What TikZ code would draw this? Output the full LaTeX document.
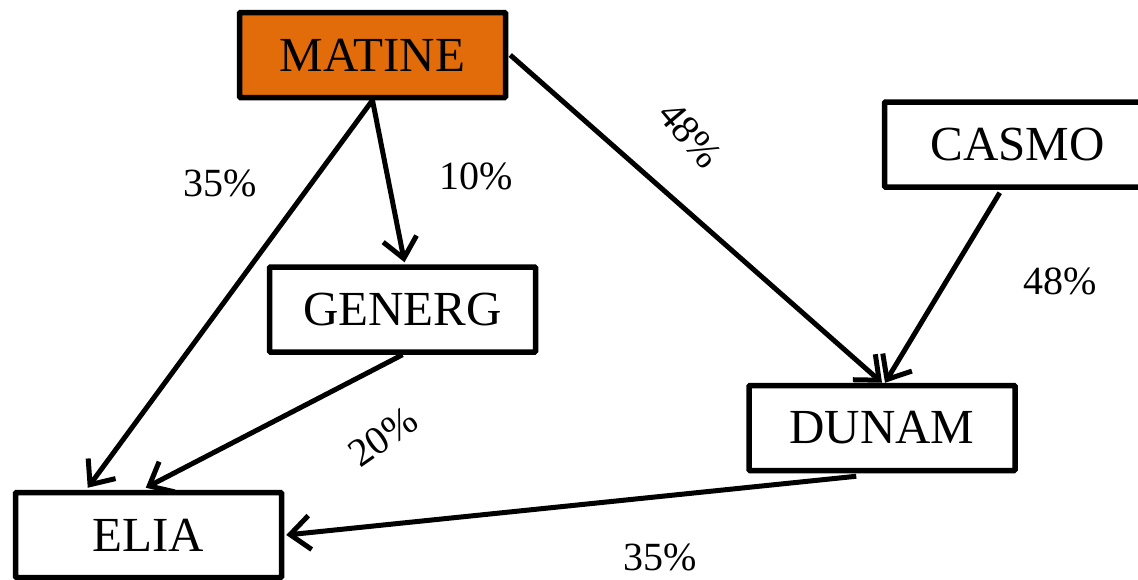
\documentclass[tikz,border=0pt]{standalone}
\usepackage{fontspec}
\setmainfont{Liberation Serif}
\usetikzlibrary{arrows.meta,calc}
\definecolor{matorange}{RGB}{227,108,10}
\begin{document}
\begin{tikzpicture}[x=1pt,y=-1pt,
  box/.style={draw=black,line width=5.5pt,minimum width=266pt,minimum height=85pt,inner sep=0pt,font=\fontsize{49}{54}\selectfont,rounded corners=1pt},
  link/.style={line width=5pt,-{Straight Barb[length=20pt,width=34pt,line width=5pt]}},
  pct/.style={font=\fontsize{40}{44}\selectfont,inner sep=0pt}]
\useasboundingbox (0,0) rectangle (1138,579);
\node[box,fill=matorange] (matine) at (372.5,55) {MATINE};
\node[box] (casmo) at (1017.5,144.5) {CASMO};
\node[box] (generg) at (402.5,309.5) {GENERG};
\node[box] (dunam) at (882,428) {DUNAM};
\node[box] (elia) at (148.5,535) {ELIA};
\draw[link] (matine.south) -- ($(elia.north west)+(75,-2)$);
\draw[link] (matine.south) -- ($(generg.north)+(2,-2)$);
\draw[link] ($(matine.east)+(2,0)$) -- (dunam.north);
\draw[link] ($(casmo.south west)+(118,3)$) -- ($(dunam.north)+(3,0)$);
\draw[link] (generg.south) -- ($(elia.north west)+(133,-2)$);
\draw[link] ($(dunam.south west)+(110,3)$) -- ($(elia.east)+(2,0)$);
\node[pct] (l1) at (220,183) {35\%};
\node[pct] (l2) at (476,176) {10\%};
\node[pct,rotate=-50] (l3) at (690,135) {48\%};
\node[pct] (l4) at (1060,281) {48\%};
\node[pct,rotate=35] (l5) at (383,437) {20\%};
\node[pct] (l6) at (660,557) {35\%};
\end{tikzpicture}
\end{document}
